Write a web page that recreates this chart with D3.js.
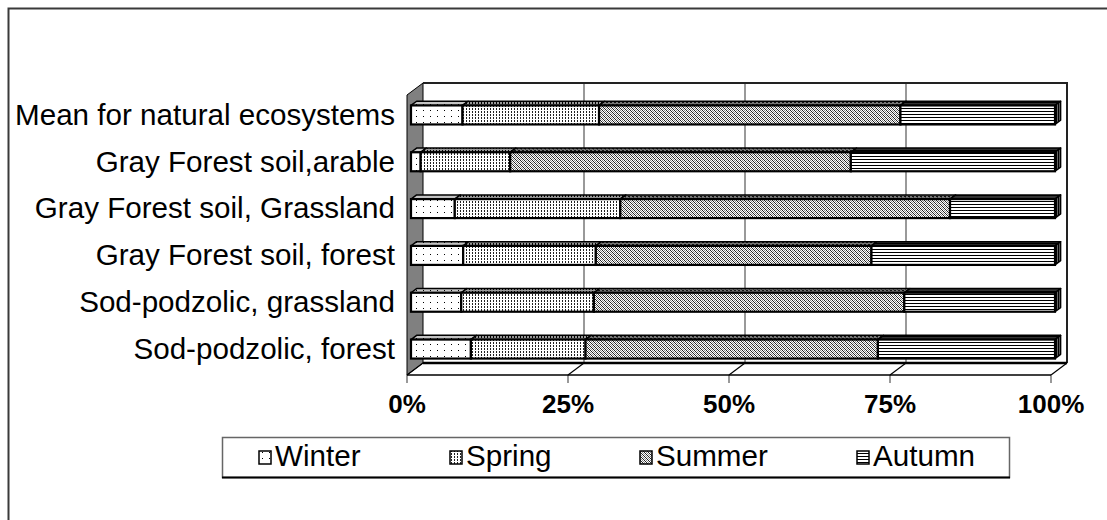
<!DOCTYPE html>
<html>
<head>
<meta charset="utf-8">
<script src="https://cdn.jsdelivr.net/npm/d3@7"></script>
<style>
body { margin: 0; background: #fff; }
text { font-family: Arial, "Liberation Sans", sans-serif; fill: #000; }
</style>
</head>
<body>
<svg id="chart" width="1107" height="520"></svg>
<script>
// Data (percent of annual total, top row first)
var categories = [
  "Mean for natural ecosystems",
  "Gray Forest soil,arable",
  "Gray Forest soil, Grassland",
  "Gray Forest soil, forest",
  "Sod-podzolic, grassland",
  "Sod-podzolic, forest"
];
var seasons = ["Winter", "Spring", "Summer", "Autumn"];
var winter = [8.0, 1.5, 6.8, 8.1, 7.8, 9.3];
var spring = [21.2, 13.9, 25.7, 20.6, 20.6, 17.8];
var summer = [46.8, 52.9, 51.2, 42.8, 48.2, 45.4];
var autumn = [24.0, 31.7, 16.3, 28.5, 23.4, 27.5];
var tickValues = [0, 25, 50, 75, 100];
var tickLabels = ["0%", "25%", "50%", "75%", "100%"];

var svg = d3.select("#chart");

// 3D depth of the plot box
var depthX = 16, depthY = -12;
// bar sits between these fractions of the depth
var barF0 = 0.25, barF1 = 0.6;

var x = d3.scaleLinear().domain([0, 100]).range([407, 1051]);
var frontTop = 95, frontBottom = 375;
var y = d3.scaleBand()
  .domain(categories)
  .range([frontTop, frontBottom])
  .paddingInner(0.594)
  .paddingOuter(0.287);

// Patterns
var defs = svg.append("defs");
function pat(id, w, h, bg, dots) {
  var p = defs.append("pattern")
    .attr("id", id)
    .attr("patternUnits", "userSpaceOnUse")
    .attr("width", w)
    .attr("height", h);
  p.append("rect").attr("width", w).attr("height", h).attr("fill", bg);
  dots.forEach(function(d){
    p.append("rect").attr("x", d[0]).attr("y", d[1]).attr("width", d[2]).attr("height", d[3]).attr("fill", d[4]);
  });
}
// winter: sparse dots
pat("pWinter", 7, 6, "#fff", [[3, 2, 1, 1, "#000"]]);
pat("pWinterTop", 7, 6, "#c4c4c4", [[3, 2, 1, 1, "#000"]]);
// spring: dashed columns
pat("pSpring", 3, 3, "#fff", [[1, 0, 1, 2, "#222"]]);
pat("pSpringTop", 3, 3, "#999", [[1, 0, 1, 2, "#000"]]);
// summer: dense gray texture
pat("pSummer", 4, 4, "#fff", [
  [0, 0, 1, 1, "#222"], [1, 1, 1, 1, "#222"], [2, 2, 1, 1, "#222"], [3, 3, 1, 1, "#222"],
  [2, 0, 1, 1, "#888"], [3, 1, 1, 1, "#888"], [0, 2, 1, 1, "#888"], [1, 3, 1, 1, "#888"]
]);
pat("pSummerTop", 4, 4, "#777", [
  [0, 0, 2, 1, "#111"], [2, 2, 2, 1, "#111"], [1, 1, 1, 1, "#444"]
]);
// autumn: horizontal lines
pat("pAutumn", 3, 3, "#fff", [[0, 0, 3, 1, "#000"]]);
pat("pAutumnTop", 3, 3, "#333", [[0, 0, 3, 1, "#000"]]);
pat("pAutumnSide", 2, 3, "#666", [[0, 0, 1, 3, "#000"]]);

var frontFill = {Winter: "url(#pWinter)", Spring: "url(#pSpring)", Summer: "url(#pSummer)", Autumn: "url(#pAutumn)"};
var topFill = {Winter: "url(#pWinterTop)", Spring: "url(#pSpringTop)", Summer: "url(#pSummerTop)", Autumn: "url(#pAutumnTop)"};

// Outer chart frame
svg.append("rect")
  .attr("x", 8.5).attr("y", 8.5)
  .attr("width", 1300).attr("height", 700)
  .attr("fill", "none")
  .attr("stroke", "#3a3a3a")
  .attr("stroke-width", 2);

// Back wall
var backTop = frontTop + depthY, backBottom = frontBottom + depthY;
svg.append("rect")
  .attr("x", x(0) + depthX).attr("y", backTop)
  .attr("width", x(100) - x(0)).attr("height", backBottom - backTop)
  .attr("fill", "#fff");

// Side wall (gray)
svg.append("polygon")
  .attr("points", [[x(0), frontTop], [x(0) + depthX, backTop], [x(0) + depthX, backBottom], [x(0), frontBottom]].join(" "))
  .attr("fill", "#808080")
  .attr("stroke", "#000")
  .attr("stroke-width", 1);

// Gridlines on back wall and floor
tickValues.forEach(function(v){
  if (v > 0 && v < 100) {
    svg.append("line")
      .attr("x1", x(v) + depthX).attr("x2", x(v) + depthX)
      .attr("y1", backTop).attr("y2", backBottom)
      .attr("stroke", "#777").attr("stroke-width", 1.5);
  }
  svg.append("line")
    .attr("x1", x(v) + depthX).attr("y1", backBottom)
    .attr("x2", x(v)).attr("y2", frontBottom)
    .attr("stroke", "#000").attr("stroke-width", 1.2);
  svg.append("line")
    .attr("x1", x(v)).attr("x2", x(v))
    .attr("y1", frontBottom).attr("y2", frontBottom + 8)
    .attr("stroke", "#555").attr("stroke-width", 1.2);
});

// Back wall border
svg.append("path")
  .attr("d", "M" + (x(0) + depthX) + "," + backTop + "H" + (x(100) + depthX) + "V" + backBottom)
  .attr("fill", "none").attr("stroke", "#222").attr("stroke-width", 2);
svg.append("line")
  .attr("x1", x(0) + depthX).attr("x2", x(100) + depthX)
  .attr("y1", backBottom).attr("y2", backBottom)
  .attr("stroke", "#000").attr("stroke-width", 2.5);
svg.append("line")
  .attr("x1", x(0)).attr("x2", x(100))
  .attr("y1", frontBottom).attr("y2", frontBottom)
  .attr("stroke", "#000").attr("stroke-width", 1.5);

// Bars
var rows = categories.map(function(c, i){
  return {cat: c, Winter: winter[i], Spring: spring[i], Summer: summer[i], Autumn: autumn[i]};
});
var stacked = d3.stack().keys(seasons)(rows);

var ox0 = barF0 * depthX, oy0 = barF0 * depthY;
var bdx = (barF1 - barF0) * depthX, bdy = (barF1 - barF0) * depthY;
var h = y.bandwidth();

var barG = svg.append("g");
stacked.forEach(function(layer){
  var key = layer.key;
  layer.forEach(function(d){
    var cat = d.data.cat;
    var x0 = x(d[0]) + ox0, x1 = x(d[1]) + ox0;
    var yt = y(cat) + oy0;
    // top face
    barG.append("polygon")
      .attr("points", [[x0, yt], [x1, yt], [x1 + bdx, yt + bdy], [x0 + bdx, yt + bdy]].join(" "))
      .attr("fill", topFill[key])
      .attr("stroke", "#000").attr("stroke-width", 1.5).attr("stroke-linejoin", "round");
    if (key === "Autumn") {
      barG.append("polygon")
        .attr("points", [[x1, yt], [x1 + bdx, yt + bdy], [x1 + bdx, yt + h + bdy], [x1, yt + h]].join(" "))
        .attr("fill", "url(#pAutumnSide)")
        .attr("stroke", "#000").attr("stroke-width", 1.5).attr("stroke-linejoin", "round");
    }
  });
});
stacked.forEach(function(layer){
  var key = layer.key;
  barG.selectAll(null)
    .data(layer)
    .enter()
    .append("rect")
    .attr("x", function(d){ return x(d[0]) + ox0; })
    .attr("y", function(d){ return y(d.data.cat) + oy0; })
    .attr("width", function(d){ return x(d[1]) - x(d[0]); })
    .attr("height", h)
    .attr("fill", frontFill[key])
    .attr("stroke", "#000")
    .attr("stroke-width", 2.2);
});

// Category labels
svg.append("g")
  .selectAll("text")
  .data(categories)
  .enter()
  .append("text")
  .attr("x", 395)
  .attr("y", function(d){ return y(d) + oy0 + h / 2 + 2; })
  .attr("text-anchor", "end")
  .attr("dominant-baseline", "middle")
  .style("font-size", "29.6px")
  .text(function(d){ return d; });

// Value axis labels
svg.append("g")
  .selectAll("text")
  .data(tickValues)
  .enter()
  .append("text")
  .attr("x", function(d){ return x(d); })
  .attr("y", 406)
  .attr("text-anchor", "middle")
  .attr("dominant-baseline", "middle")
  .style("font-size", "26px")
  .style("font-weight", "bold")
  .text(function(d, i){ return tickLabels[i]; });

// Legend
var legend = svg.append("g");
legend.append("rect")
  .attr("x", 222.5).attr("y", 437.5)
  .attr("width", 787).attr("height", 40)
  .attr("fill", "#fff")
  .attr("stroke", "#666").attr("stroke-width", 1.5);
legend.append("line")
  .attr("x1", 222).attr("x2", 1010)
  .attr("y1", 477.5).attr("y2", 477.5)
  .attr("stroke", "#000").attr("stroke-width", 2);
var legendKeyX = [259, 450, 640, 857];
seasons.forEach(function(s, i){
  legend.append("rect")
    .attr("x", legendKeyX[i]).attr("y", 451)
    .attr("width", 12).attr("height", 13)
    .attr("fill", frontFill[s])
    .attr("stroke", "#000").attr("stroke-width", 1.5);
  legend.append("text")
    .attr("x", legendKeyX[i] + 16)
    .attr("y", 458)
    .attr("dominant-baseline", "middle")
    .style("font-size", "29.6px")
    .text(s);
});
</script>
</body>
</html>
